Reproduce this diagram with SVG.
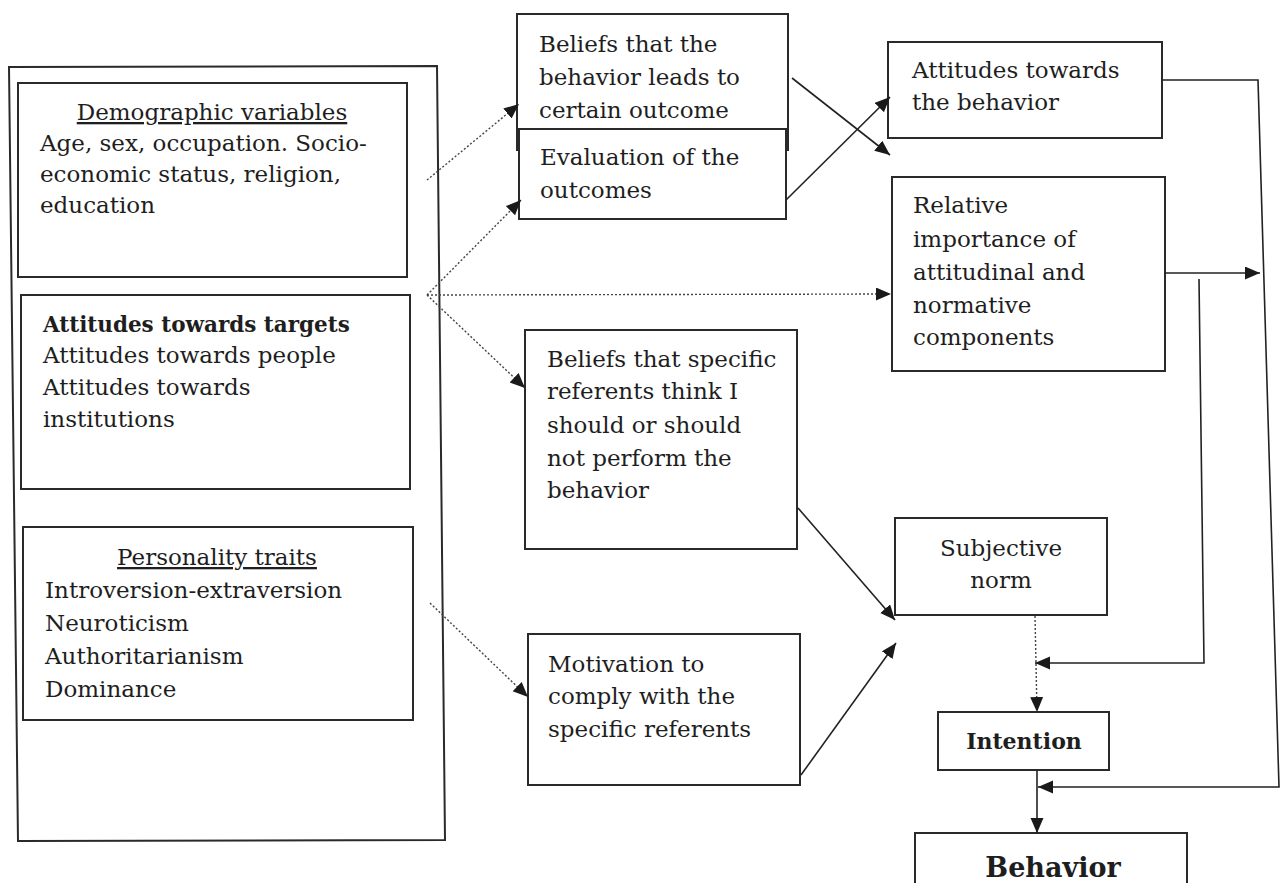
<svg xmlns="http://www.w3.org/2000/svg" width="1284" height="883" viewBox="0 0 1284 883">
<defs>
<marker id="ah" markerUnits="userSpaceOnUse" markerWidth="16" markerHeight="14" refX="15" refY="6.5" orient="auto">
<path d="M0,0 L15,6.5 L0,13 z" fill="#1a1a1a"/>
</marker>
</defs>
<style>
.box{fill:#fff;stroke:#2a2a2a;stroke-width:2}
.t{font-family:"DejaVu Serif","Liberation Serif",serif;font-size:23px;fill:#1e1e1e}
.b{font-weight:bold}
.c{text-anchor:middle}
.u{text-decoration:underline}
.ln{fill:none;stroke:#222;stroke-width:1.6}
.dt{fill:none;stroke:#444;stroke-width:1.4;stroke-dasharray:2 2}
</style>
<rect width="1284" height="883" fill="#fff"/>

<g id="outer">
<polygon class="box" points="9,67 437,66 445,840 18,841"/>
</g>

<g id="demographic">
<rect class="box" x="18" y="83" width="389" height="194"/>
<text class="t c u" x="212" y="120">Demographic variables</text>
<text class="t" x="40" y="151">Age, sex, occupation. Socio-</text>
<text class="t" x="40" y="182">economic status, religion,</text>
<text class="t" x="40" y="213">education</text>
</g>

<g id="targets">
<rect class="box" x="21" y="295" width="389" height="194"/>
<text class="t b" x="43" y="332" style="font-size:21.5px">Attitudes towards targets</text>
<text class="t" x="43" y="363">Attitudes towards people</text>
<text class="t" x="43" y="395">Attitudes towards</text>
<text class="t" x="43" y="427">institutions</text>
</g>

<g id="personality">
<rect class="box" x="23" y="527" width="390" height="193"/>
<text class="t c u" x="217" y="565">Personality traits</text>
<text class="t" x="45" y="598">Introversion-extraversion</text>
<text class="t" x="45" y="631">Neuroticism</text>
<text class="t" x="45" y="664">Authoritarianism</text>
<text class="t" x="45" y="697">Dominance</text>
</g>

<g id="beliefs-outcome">
<rect class="box" x="517" y="14" width="271" height="136"/>
<text class="t" x="539" y="52">Beliefs that the</text>
<text class="t" x="539" y="85">behavior leads to</text>
<text class="t" x="539" y="118">certain outcome</text>
</g>

<g id="evaluation">
<rect class="box" x="519" y="129" width="267" height="90"/>
<text class="t" x="540" y="165">Evaluation of the</text>
<text class="t" x="540" y="198">outcomes</text>
</g>

<g id="attitude-behavior">
<rect class="box" x="888" y="42" width="274" height="96"/>
<text class="t" x="912" y="78">Attitudes towards</text>
<text class="t" x="912" y="110">the behavior</text>
</g>

<g id="relative-importance">
<rect class="box" x="892" y="177" width="273" height="194"/>
<text class="t" x="913" y="213">Relative</text>
<text class="t" x="913" y="247">importance of</text>
<text class="t" x="913" y="280">attitudinal and</text>
<text class="t" x="913" y="313">normative</text>
<text class="t" x="913" y="345">components</text>
</g>

<g id="normative-beliefs">
<rect class="box" x="525" y="330" width="272" height="219"/>
<text class="t" x="547" y="367">Beliefs that specific</text>
<text class="t" x="547" y="399">referents think I</text>
<text class="t" x="547" y="433">should or should</text>
<text class="t" x="547" y="466">not perform the</text>
<text class="t" x="547" y="498">behavior</text>
</g>

<g id="motivation">
<rect class="box" x="528" y="634" width="272" height="151"/>
<text class="t" x="548" y="672">Motivation to</text>
<text class="t" x="548" y="704">comply with the</text>
<text class="t" x="548" y="737">specific referents</text>
</g>

<g id="subjective-norm">
<rect class="box" x="895" y="518" width="212" height="97"/>
<text class="t c" x="1001" y="556">Subjective</text>
<text class="t c" x="1001" y="588">norm</text>
</g>

<g id="intention">
<rect class="box" x="938" y="712" width="171" height="58"/>
<text class="t b c" x="1024" y="749" style="font-size:22px">Intention</text>
</g>

<g id="behavior">
<rect class="box" x="915" y="833" width="272" height="70"/>
<text class="t b c" x="1053" y="877" style="font-size:27px">Behavior</text>
</g>

<g id="connectors">
<line class="dt" x1="427" y1="180" x2="519" y2="104" marker-end="url(#ah)"/>
<line class="dt" x1="427" y1="295" x2="521" y2="200" marker-end="url(#ah)"/>
<line class="dt" x1="427" y1="295" x2="891" y2="294" marker-end="url(#ah)"/>
<line class="dt" x1="427" y1="295" x2="525" y2="388" marker-end="url(#ah)"/>
<line class="dt" x1="430" y1="603" x2="528" y2="697" marker-end="url(#ah)"/>
<line class="ln" x1="792" y1="78" x2="890" y2="155" marker-end="url(#ah)"/>
<line class="ln" x1="786" y1="200" x2="890" y2="97" marker-end="url(#ah)"/>
<polyline class="ln" points="1162,80 1258,80 1279,787 1038,787" marker-end="url(#ah)"/>
<line class="ln" x1="1165" y1="273" x2="1260" y2="273" marker-end="url(#ah)"/>
<polyline class="ln" points="1199,279 1204,663 1035,663" marker-end="url(#ah)"/>
<line class="dt" x1="1035" y1="616" x2="1037" y2="712" marker-end="url(#ah)"/>
<line class="ln" x1="1037" y1="771" x2="1037" y2="833" marker-end="url(#ah)"/>
<line class="ln" x1="798" y1="508" x2="895" y2="620" marker-end="url(#ah)"/>
<line class="ln" x1="801" y1="775" x2="896" y2="643" marker-end="url(#ah)"/>
</g>
</svg>
